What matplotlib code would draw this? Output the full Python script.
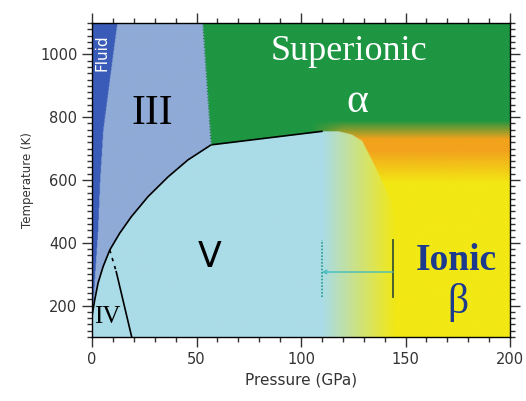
import numpy as np
import matplotlib.pyplot as plt
from matplotlib.ticker import MultipleLocator

# Fronteiras de fase (P em GPa, T em K)
fluid_T = [165, 200, 300, 440, 600, 760, 1000, 1100]
fluid_P = [0, 0.4, 1.4, 2.8, 3.8, 5.3, 10, 12]

# fronteira superior da fase V (III/V, superiónico/V e canto arredondado)
v_P = [0, 0.5, 1.3, 2.9, 5.3, 8.5, 13.2, 18.8, 26.8, 36.4, 45.9, 57,
       110, 118, 124, 129, 134, 139, 143, 146, 147.5]
v_T = [165, 186, 218, 272, 324, 377, 430, 483, 547, 610, 664, 712,
       755, 755, 745, 725, 660, 590, 530, 450, 100]
n_line = 13  # pontos com linha preta (até 110 GPa)

# fronteira III / superiónico
sup_T = [712, 1100]
sup_P = [57, 53]

# linha IV / V
iv_P = [8.5, 11.6, 19]
iv_T = [377, 308, 100]

# barra de erro
err_T = 307
err_P = [110, 144]
err_span = [227, 410]

# cores
c_fluid = np.array([58, 92, 184]) / 255
c_iii = np.array([143, 170, 214]) / 255
c_v = np.array([170, 220, 232]) / 255
c_green = np.array([30, 150, 66]) / 255
c_orange = np.array([242, 162, 28]) / 255
c_yellow = np.array([242, 232, 20]) / 255

# imagem das regiões
P = np.linspace(0, 200, 800)
T = np.linspace(100, 1100, 800)
PP, TT = np.meshgrid(P, T)
img = np.zeros(PP.shape + (3,))

Tv = np.interp(PP, v_P, v_T, right=0)
Pfl = np.interp(TT, fluid_T, fluid_P, left=-1)
Psup = np.interp(TT, sup_T, sup_P)

# gradiente vertical verde -> laranja -> amarelo
def vgrad(t):
    a = np.clip((790 - t) / 60, 0, 1)[..., None]
    b = np.clip((695 - t) / 105, 0, 1)[..., None]
    col = c_green * (1 - a) + c_orange * a
    return col * (1 - b) + c_yellow * b

w = np.clip((PP - 105) / 15, 0, 1)[..., None]
sup = c_green * (1 - w) + vgrad(TT) * w
img[:] = sup
img[PP < Psup] = c_iii
img[PP < Pfl] = c_fluid
h = np.clip((PP - 110) / 35, 0, 1)[..., None]
vcol = c_v * (1 - h) + c_yellow * h
mask_v = TT < Tv
img[mask_v] = vcol[mask_v]

fig = plt.figure(figsize=(5.26, 4.01), dpi=100)
ax = fig.add_axes([0.1749, 0.1596, 0.7947, 0.7830])
ax.imshow(img, extent=[0, 200, 100, 1100], origin='lower', aspect='auto',
          interpolation='bilinear')

ax.plot(v_P[:n_line], v_T[:n_line], color='black', lw=1.2)
ax.plot(sup_P, sup_T, color='#1a7a35', lw=0.8, ls=':')
ax.plot(iv_P[:2], iv_T[:2], color='black', lw=1.2, ls=(0, (2, 3)))
ax.plot(iv_P[1:], iv_T[1:], color='black', lw=1.2)

# barra de erro
ax.annotate('', xy=(err_P[0], err_T), xytext=(err_P[1], err_T),
            arrowprops=dict(arrowstyle='->', color='#45bcbc', lw=1, shrinkA=0, shrinkB=0,
                            mutation_scale=6))
ax.plot([err_P[0], err_P[0]], err_span, color='#2a9c84', lw=1.2, ls=(0, (1, 1)))
ax.plot([err_P[1], err_P[1]], err_span, color='#3b5530', lw=1.3)

# textos
ax.text(5, 1007, 'Fluid', color='white', fontsize=11, rotation=90, ha='center', va='center')
ax.text(29, 810, 'III', family='Liberation Serif', fontsize=30, ha='center', va='center')
ax.text(123, 1010, 'Superionic', family='Liberation Serif', color='white', fontsize=26,
        ha='center', va='center')
ax.text(127, 850, 'α', family='Liberation Serif', color='white', fontsize=30,
        ha='center', va='center')
ax.text(56.5, 355, 'V', fontsize=25, ha='center', va='center')
ax.text(7.5, 165, 'IV', family='Liberation Serif', fontsize=18, ha='center', va='center')
ax.text(174.5, 345, 'Ionic', family='Liberation Serif', color='#1c3a8e', fontsize=27,
        fontweight='bold', ha='center', va='center')
ax.text(175, 210, 'β', family='Liberation Serif', color='#1c3a8e', fontsize=30,
        ha='center', va='center')

ax.set_xlim(0, 200)
ax.set_ylim(100, 1100)
ax.xaxis.set_major_locator(MultipleLocator(50))
ax.xaxis.set_minor_locator(MultipleLocator(10))
ax.yaxis.set_major_locator(MultipleLocator(200))
ax.yaxis.set_minor_locator(MultipleLocator(20))
ax.tick_params(which='both', direction='out', top=True, right=True, labelsize=10.5,
               colors='#333333', width=1)
ax.tick_params(which='major', length=7)
ax.tick_params(which='minor', length=3.5)
for s in ax.spines.values():
    s.set_linewidth(1)
ax.set_xlabel('Pressure (GPa)', fontsize=11, color='#333333', labelpad=4)
ax.set_ylabel('Temperature (K)', fontsize=8.5, color='#333333', labelpad=4)

fig.savefig('out.png', dpi=100)
